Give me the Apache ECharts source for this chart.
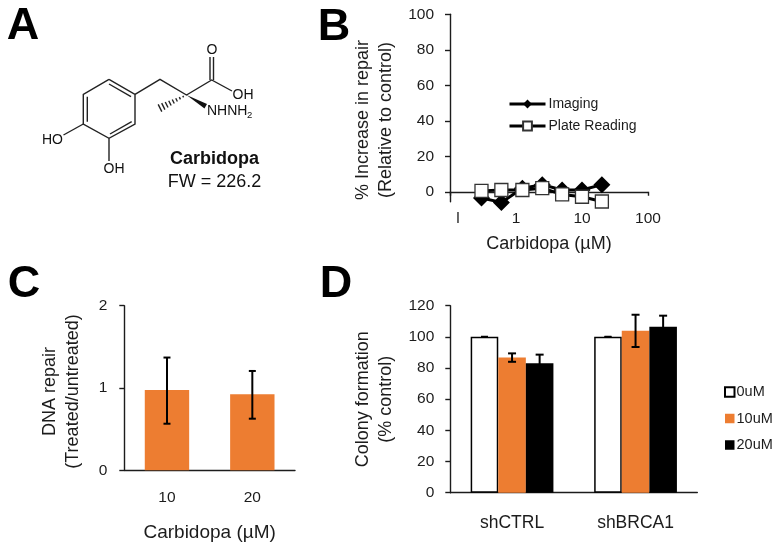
<!DOCTYPE html>
<html><head><meta charset="utf-8">
<style>html,body{margin:0;padding:0;background:#fff}#c{width:778px;height:549px}</style>
<script src="https://cdn.jsdelivr.net/npm/echarts@6/dist/echarts.min.js"></script>
</head><body><div id="c"></div>
<script>
const FONT = '"Liberation Sans", Arial, sans-serif';
const INK = '#1c1c1c', ORANGE = '#ED7D31';

// Panel B
const bDoses = [0.3, 0.6, 1.25, 2.5, 5, 10, 20];
const bImaging = [-3.5, -6, 2, 4, 1, 1, 4];
const bPlate = [0.5, 1, 1, 2, -1.5, -2.8, -5.5];
const bXLabels = ['l', '1', '10', '100'];
const bYTicks = [0, 20, 40, 60, 80, 100];
// Panel C
const cCategories = ['10', '20'];
const cValues = [0.975, 0.923];
const cErrLow = [0.566, 0.627];
const cErrHigh = [1.37, 1.207];
// Panel D
const dCategories = ['shCTRL', 'shBRCA1'];
const d0 = [100, 100];
const d10 = [86.8, 104];
const d20 = [83, 106.5];
const d10Low = [84, 93.5];
const d10High = [89.4, 114.2];
const d20Low = [77.4, 99.4];
const d20High = [88.6, 113.6];

const axisLine = {lineStyle: {color: INK, width: 1.4}};
const axisTick = {length: 5, lineStyle: {color: INK, width: 1.4}};
const label = {color: INK, fontSize: 15.5, fontFamily: FONT};
const nameStyle = {color: INK, fontSize: 18, fontFamily: FONT, lineHeight: 23};

function errorSeries(xAxisIndex, yAxisIndex, low, high, offset, capHalf) {
  return {
    type: 'custom', xAxisIndex, yAxisIndex, z: 5, silent: true, clip: false,
    encode: {x: 0, y: [1, 2]},
    data: low.map((v, i) => [i, v, high[i]]),
    renderItem(params, api) {
      const band = api.size([1, 0])[0];
      const lo = api.coord([api.value(0), api.value(1)]);
      const hi = api.coord([api.value(0), api.value(2)]);
      const x = lo[0] + offset * band;
      const s = {stroke: '#000', lineWidth: 2};
      return {type: 'group', children: [
        {type: 'line', shape: {x1: x, y1: lo[1], x2: x, y2: hi[1]}, style: s},
        {type: 'line', shape: {x1: x - capHalf, y1: lo[1], x2: x + capHalf, y2: lo[1]}, style: s},
        {type: 'line', shape: {x1: x - capHalf, y1: hi[1], x2: x + capHalf, y2: hi[1]}, style: s}
      ]};
    }
  };
}

// Panel A illustration + panel letters
const bondStyle = {stroke: '#222', lineWidth: 1.4, fill: null};
function poly(points) { return {type: 'polyline', shape: {points}, style: bondStyle, silent: true}; }
function txt(x, y, text, size, weight, align, fill) {
  return {type: 'text', x, y, silent: true, style: {text, fill: fill || '#111', font: (weight || 'normal') + ' ' + size + 'px ' + FONT, textAlign: align || 'center', textVerticalAlign: 'middle'}};
}
const hashes = [];
for (let k = 1; k <= 8; k++) {
  const t = k / 8, cx = 186.5 - 26.5 * t, cy = 95 + 13 * t, h = 0.4 + 3.6 * t;
  hashes.push(poly([[cx - h * 0.45, cy - h * 0.9], [cx + h * 0.45, cy + h * 0.9]]));
}
const letters = [txt(23, 27, 'A', 45, 'bold', 'center', '#000'), txt(334, 28, 'B', 45, 'bold', 'center', '#000'), txt(24, 285, 'C', 45, 'bold', 'center', '#000'), txt(336, 285, 'D', 45, 'bold', 'center', '#000')];
const structure = [
  poly([[109, 79.3], [135, 94.3], [135, 124], [109, 138.3], [83.3, 124], [83.3, 94.3], [109, 79.3]]),
  poly([[109, 84], [131, 96.7]]), poly([[87.3, 96.7], [87.3, 121.7]]), poly([[110, 134], [131.7, 121.7]]),
  poly([[135, 94.3], [160, 79.3], [186.5, 95], [211.7, 80], [232, 91]]),
  poly([[210, 80], [210, 57]]), poly([[213.5, 80], [213.5, 57]]),
  poly([[83.3, 124], [63.5, 135]]), poly([[109, 138.3], [109, 161]]),
  {type: 'polygon', silent: true, shape: {points: [[186.5, 95], [207, 104], [204.5, 108.5]]}, style: {fill: '#111'}},
  ...hashes,
  txt(212, 50, 'O', 14), txt(243, 95, 'OH', 14), txt(207, 111, 'NHNH', 14, 'normal', 'left'), txt(247, 115, '2', 9.5, 'normal', 'left'),
  txt(52.5, 140, 'HO', 14), txt(114, 169.5, 'OH', 14),
  txt(214.5, 159.5, 'Carbidopa', 18, 'bold'), txt(214.5, 182, 'FW = 226.2', 18)
];

const option = {
  animation: false,
  backgroundColor: '#fff',
  textStyle: {fontFamily: FONT},
  graphic: {elements: [...letters, ...structure]},
  legend: [
    {left: 508, top: 97, padding: 0, orient: 'vertical', itemWidth: 36, itemHeight: 11, itemGap: 8, selectedMode: false,
     lineStyle: {width: 3},
     data: ['Imaging', 'Plate Reading'], textStyle: {color: INK, fontSize: 14, fontFamily: FONT, padding: [0, 0, 0, -2]}},
    {left: 724, top: 384.5, padding: 0, orient: 'vertical', icon: 'rect', itemWidth: 9.5, itemHeight: 9.5, itemGap: 11.5, selectedMode: false,
     data: ['0uM', '10uM', '20uM'], textStyle: {color: INK, fontSize: 14.5, fontFamily: FONT, padding: [0, 0, 0, -3]}}
  ],
  grid: [
    {left: 450, top: 14.3, width: 198, height: 187.4},
    {left: 124.3, top: 305.7, width: 170.7, height: 164.6},
    {left: 450.3, top: 305.7, width: 247, height: 187}
  ],
  xAxis: [
    {gridIndex: 0, type: 'log', logBase: 10, min: 0.1, max: 100, axisLine: {...axisLine, onZero: true}, axisTick: {length: 4, lineStyle: axisTick.lineStyle}, minorTick: {show: false}, splitLine: {show: false}, minorSplitLine: {show: false},
     axisLabel: {...label, margin: 9, showMinLabel: true, showMaxLabel: true, formatter: (v, i) => i === 0 ? '{a|' + bXLabels[0] + '}' : bXLabels[Math.round(Math.log10(v)) + 1],
       rich: {a: {...label, padding: [0, 0, 0, 16]}}},
     name: 'Carbidopa (µM)', nameLocation: 'middle', nameGap: 31, nameTextStyle: nameStyle},
    {gridIndex: 1, type: 'category', data: cCategories, axisLine, axisTick, axisLabel: {...label, margin: 19},
     name: 'Carbidopa (µM)', nameLocation: 'middle', nameGap: 51, nameTextStyle: {...nameStyle, fontSize: 19}},
    {gridIndex: 2, type: 'category', data: dCategories, axisLine, axisTick, axisLabel: {...label, fontSize: 17.5, margin: 21.5}}
  ],
  yAxis: [
    {gridIndex: 0, type: 'value', min: -5.6, max: 100, axisLine: {show: true, onZero: false, lineStyle: axisLine.lineStyle}, axisTick: {show: true, ...axisTick, customValues: bYTicks}, splitLine: {show: false},
     axisLabel: {...label, margin: 16, customValues: bYTicks},
     name: '% Increase in repair\n(Relative to control)', nameLocation: 'middle', nameRotate: 90, nameGap: 52, nameTextStyle: {...nameStyle, padding: [0, 24, 0, 0]}},
    {gridIndex: 1, type: 'value', min: 0, max: 2, interval: 1, axisLine: {show: true, lineStyle: axisLine.lineStyle}, axisTick: {show: true, ...axisTick}, splitLine: {show: false},
     axisLabel: {...label, margin: 17},
     name: 'DNA repair\n(Treated/untreated)', nameLocation: 'middle', nameRotate: 90, nameGap: 40, nameTextStyle: {...nameStyle, padding: [0, 7, 0, 0]}},
    {gridIndex: 2, type: 'value', min: 0, max: 120, interval: 20, axisLine: {show: true, lineStyle: axisLine.lineStyle}, axisTick: {show: true, ...axisTick}, splitLine: {show: false},
     axisLabel: {...label, margin: 16},
     name: 'Colony formation\n(% control)', nameLocation: 'middle', nameRotate: 90, nameGap: 53, nameTextStyle: nameStyle}
  ],
  series: [
    {name: 'Imaging', type: 'line', xAxisIndex: 0, yAxisIndex: 0, clip: false, symbol: 'diamond', symbolSize: 17,
     lineStyle: {color: '#000', width: 3}, itemStyle: {color: '#000'}, data: bDoses.map((d, i) => [d, bImaging[i]])},
    {name: 'Plate Reading', type: 'line', xAxisIndex: 0, yAxisIndex: 0, clip: false, symbol: 'rect', symbolSize: 13,
     lineStyle: {color: '#000', width: 3}, itemStyle: {color: '#fff', borderColor: '#333', borderWidth: 1.3}, data: bDoses.map((d, i) => [d, bPlate[i]])},
    {type: 'bar', xAxisIndex: 1, yAxisIndex: 1, barWidth: '52%', itemStyle: {color: ORANGE}, data: cValues},
    errorSeries(1, 1, cErrLow, cErrHigh, 0, 3.5),
    {name: '0uM', type: 'bar', xAxisIndex: 2, yAxisIndex: 2, barGap: 0, barCategoryGap: '33%', itemStyle: {color: '#fff', borderColor: '#000', borderWidth: 1.5}, data: d0},
    {name: '10uM', type: 'bar', xAxisIndex: 2, yAxisIndex: 2, itemStyle: {color: ORANGE}, data: d10},
    {name: '20uM', type: 'bar', xAxisIndex: 2, yAxisIndex: 2, itemStyle: {color: '#000'}, data: d20},
    errorSeries(2, 2, d0, d0, -0.2233, 3.5),
    errorSeries(2, 2, d10Low, d10High, 0, 4),
    errorSeries(2, 2, d20Low, d20High, 0.2233, 4)
  ]
};
echarts.init(document.getElementById('c'), null, {renderer: 'canvas'}).setOption(option);
</script></body></html>
